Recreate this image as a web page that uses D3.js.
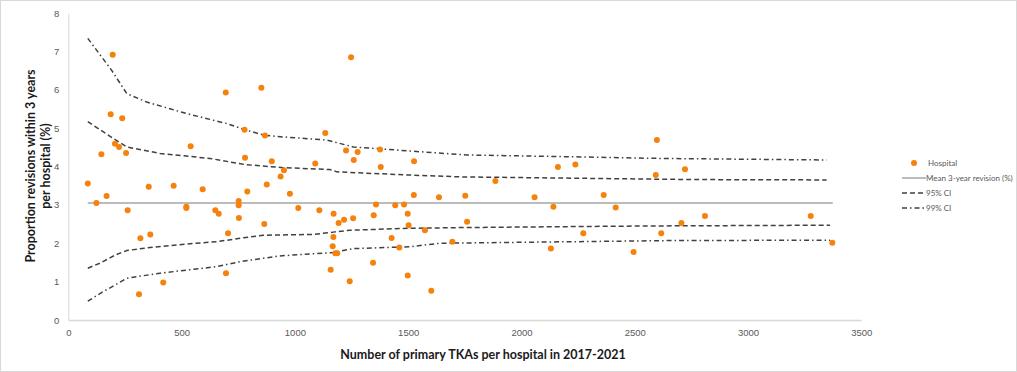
<!DOCTYPE html>
<html>
<head>
<meta charset="utf-8">
<script src="https://cdn.jsdelivr.net/npm/d3@7"></script>
<style>
  body { margin: 0; background: #fff; }
  svg { display: block; font-family: Lato, "Liberation Sans", sans-serif; }
</style>
</head>
<body>
<svg id="chart" width="1017" height="372"></svg>
<script>
// hospital volumes (x) and 3-year revision % (y)
const hospVolume = [196, 695, 187, 238, 540, 206, 224, 146, 255, 86, 355, 465, 593, 169, 124, 262,
  521, 521, 649, 664, 752, 752, 753, 705, 318, 362, 696, 419, 312,
  1248, 852, 778, 868, 1134, 1226, 1277, 1376, 1260, 1379, 780, 898, 1090, 952, 937, 876, 790, 978,
  1015, 1108, 1171, 1193, 1217, 1257, 1358, 1348, 1443, 1482, 1498, 1502, 865, 1170, 1167, 1178, 1187,
  1427, 1461, 1158, 1345, 1242, 1498,
  1526, 2161, 2238, 1885, 1525, 1636, 1752, 2058, 2141, 1574, 1760, 1695, 2130, 1602,
  2598, 2593, 2722, 2363, 2416, 2810, 2706, 2273, 2617, 2495, 3277, 3372];
const hospRevision = [6.91, 5.93, 5.36, 5.26, 4.53, 4.59, 4.51, 4.32, 4.35, 3.56, 3.47, 3.50, 3.41, 3.23, 3.05, 2.86,
  2.95, 2.92, 2.86, 2.77, 3.10, 2.99, 2.66, 2.26, 2.13, 2.23, 1.22, 0.98, 0.67,
  6.85, 6.05, 4.96, 4.81, 4.87, 4.42, 4.38, 4.44, 4.17, 3.99, 4.23, 4.14, 4.08, 3.90, 3.74, 3.53, 3.35, 3.29,
  2.92, 2.86, 2.77, 2.53, 2.61, 2.65, 3.01, 2.73, 2.99, 3.01, 2.77, 2.47, 2.50, 2.16, 1.92, 1.74, 1.74,
  2.14, 1.89, 1.31, 1.49, 1.01, 1.16,
  4.14, 3.99, 4.05, 3.62, 3.26, 3.20, 3.24, 3.20, 2.95, 2.34, 2.56, 2.04, 1.86, 0.76,
  4.69, 3.78, 3.93, 3.26, 2.93, 2.71, 2.53, 2.26, 2.26, 1.77, 2.71, 2.01];

const meanRevision = 3.05;
const meanRange = [86, 3374];

// funnel limits: [volume, value]
const ci99Upper = [[86, 7.34], [191, 6.51], [258, 5.90], [346, 5.68], [522, 5.38], [699, 5.12], [778, 4.96],
  [868, 4.81], [949, 4.77], [1140, 4.69], [1258, 4.51], [1494, 4.41], [1758, 4.30], [2258, 4.25], [2611, 4.21], [3347, 4.17]];
const ci95Upper = [[86, 5.17], [199, 4.73], [258, 4.51], [405, 4.34], [625, 4.21], [780, 4.05], [949, 3.97],
  [1155, 3.92], [1185, 3.86], [1494, 3.78], [1729, 3.73], [2744, 3.66], [3347, 3.65]];
const ci95Lower = [[86, 1.35], [140, 1.48], [206, 1.69], [258, 1.81], [361, 1.89], [522, 1.98], [655, 2.04],
  [758, 2.13], [861, 2.21], [1081, 2.23], [1170, 2.29], [1243, 2.34], [1508, 2.39], [1758, 2.41], [2538, 2.45], [3362, 2.47]];
const ci99Lower = [[86, 0.49], [154, 0.74], [206, 0.91], [258, 1.09], [405, 1.22], [522, 1.30], [655, 1.39],
  [758, 1.52], [861, 1.61], [934, 1.67], [1170, 1.76], [1258, 1.86], [1508, 1.91], [1640, 2.00], [2656, 2.07], [3362, 2.08]];

const xTicks = [0, 500, 1000, 1500, 2000, 2500, 3000, 3500];
const yTicks = [0, 1, 2, 3, 4, 5, 6, 7, 8];

const svg = d3.select('#chart');
const orange = '#f5820d';
const lineGrey = '#404040';

// chart border
svg.append('rect')
  .attr('x', 0.5).attr('y', 0.5)
  .attr('width', 1016).attr('height', 371)
  .attr('fill', 'none').attr('stroke', '#d9d9d9');

const x = d3.scaleLinear().domain([0, 3500]).range([68.3, 861.3]);
const y = d3.scaleLinear().domain([0, 8]).range([320, 13]);

// axes
const xAxis = svg.append('g')
  .attr('transform', 'translate(0,320)')
  .call(d3.axisBottom(x).tickValues(xTicks).tickFormat(d3.format('d')).tickSize(0).tickPadding(9));
xAxis.select('.domain').attr('stroke', '#d9d9d9').attr('stroke-width', 1.5);

const yAxis = svg.append('g')
  .attr('transform', 'translate(68.3,0)')
  .call(d3.axisLeft(y).tickValues(yTicks).tickFormat(d3.format('d')).tickSize(0).tickPadding(9));
yAxis.select('.domain').attr('stroke', '#d9d9d9').attr('stroke-width', 1);

svg.selectAll('.tick text')
  .attr('fill', '#595959')
  .style('font-size', '9.5px');

// axis titles
svg.append('text')
  .attr('x', 483).attr('y', 359)
  .attr('text-anchor', 'middle')
  .style('font-size', '12.5px').style('font-weight', 'bold')
  .attr('fill', '#1a1a1a')
  .text('Number of primary TKAs per hospital in 2017-2021');

const yTitle = svg.append('text')
  .attr('transform', 'translate(0,166) rotate(-90)')
  .attr('text-anchor', 'middle')
  .style('font-size', '12.5px').style('font-weight', 'bold')
  .attr('fill', '#1a1a1a');
yTitle.append('tspan').attr('x', 0).attr('y', 35).text('Proportion revisions within 3 years');
yTitle.append('tspan').attr('x', 0).attr('y', 50).text('per hospital (%)');

// lines
const line = d3.line().x(d => x(d[0])).y(d => y(d[1]));

svg.append('path')
  .attr('d', line([[meanRange[0], meanRevision], [meanRange[1], meanRevision]]))
  .attr('fill', 'none').attr('stroke', '#a6a6a6').attr('stroke-width', 1.5);

const dash95 = '5,3';
const dash99 = '5,3,1.5,3';

[ci95Upper, ci95Lower].forEach(pts => {
  svg.append('path')
    .attr('d', line(pts))
    .attr('fill', 'none').attr('stroke', lineGrey)
    .attr('stroke-width', 1.5).attr('stroke-dasharray', dash95);
});
[ci99Upper, ci99Lower].forEach(pts => {
  svg.append('path')
    .attr('d', line(pts))
    .attr('fill', 'none').attr('stroke', lineGrey)
    .attr('stroke-width', 1.5).attr('stroke-dasharray', dash99);
});

// hospitals
svg.selectAll('.hosp')
  .data(d3.range(hospVolume.length))
  .enter().append('circle')
  .attr('class', 'hosp')
  .attr('cx', i => x(hospVolume[i]))
  .attr('cy', i => y(hospRevision[i]))
  .attr('r', 3)
  .attr('fill', orange);

// legend
const legend = svg.append('g').attr('transform', 'translate(902,163)');
const legendItems = ['Hospital', 'Mean 3-year revision (%)', '95% CI', '99% CI'];
legendItems.forEach((label, i) => {
  const g = legend.append('g').attr('transform', 'translate(0,' + (i * 15) + ')');
  if (i === 0) {
    g.append('circle').attr('cx', 12).attr('cy', 0).attr('r', 3).attr('fill', orange);
  } else {
    g.append('line')
      .attr('x1', 0).attr('x2', 24).attr('y1', 0).attr('y2', 0)
      .attr('stroke', i === 1 ? '#a6a6a6' : lineGrey)
      .attr('stroke-width', 1.5)
      .attr('stroke-dasharray', i === 2 ? dash95 : i === 3 ? dash99 : null);
  }
  g.append('text')
    .attr('x', i === 0 ? 26 : 24).attr('y', 0).attr('dy', '0.35em')
    .attr('fill', '#595959')
    .style('font-size', '8px')
    .text(label);
});
</script>
</body>
</html>
